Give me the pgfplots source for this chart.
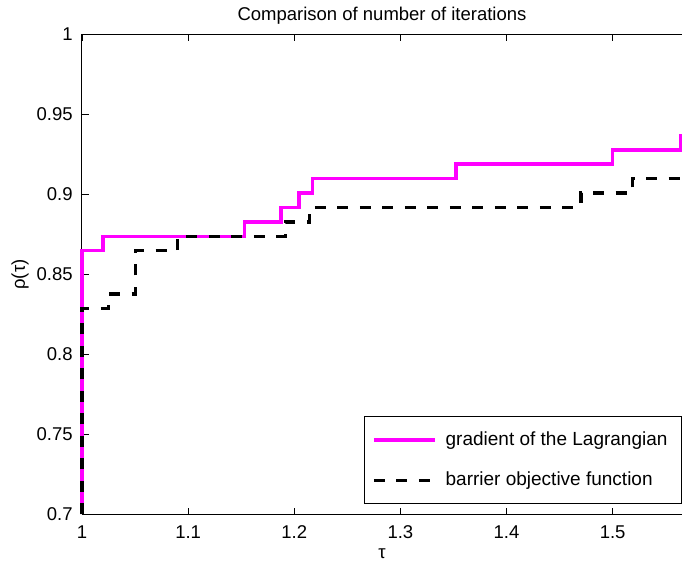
\documentclass[border=0pt]{standalone}
\usepackage{pgfplots}
\pgfplotsset{compat=1.18}
\usepackage{fontspec}
\setmainfont{Liberation Sans}
\definecolor{magentaline}{RGB}{255,0,255}
\begin{document}
\begin{tikzpicture}[font=\fontsize{9.25}{11}\selectfont]
\begin{axis}[
    scale only axis,
    width=300pt, height=240pt,
    xmin=1, xmax=1.5654, ymin=0.7, ymax=1,
    axis x line=box, axis y line*=left,
    xtick={1,1.1,...,1.5}, ytick={0.7,0.75,...,1.0},
    xticklabels={1,1.1,1.2,1.3,1.4,1.5},
    yticklabels={0.7,0.75,0.8,0.85,0.9,0.95,1},
    tick align=inside, major tick length=3.3pt,
    xtick pos=both,
    tick style={black, line width=0.4pt},
    axis line style={line width=0.5pt},
    /pgf/number format/assume math mode=true,
    yticklabel style={inner sep=0pt, xshift=-4.5pt},
    xticklabel style={inner sep=0pt, yshift=-5.5pt},
    title={Comparison of number of iterations},
    every axis title shift=0pt,
    title style={at={(axis description cs:0.5,1)}, anchor=base, yshift=7pt},
    xlabel={τ}, ylabel={ρ(τ)},
    every axis x label/.style={at={(axis description cs:0.5,-0.08125)}, anchor=center},
    every axis y label/.style={at={(axis description cs:-0.1033,0.5)}, rotate=90, anchor=center},
    clip=false,
    legend cell align=left,
    legend image code/.code={\draw[#1] (0pt,0pt) -- (30.5pt,0pt);},
    legend style={at={(axis description cs:1,0)}, anchor=south east, yshift=5pt,
        draw=black, line width=0.5pt, inner xsep=4pt, inner ysep=5.5pt,
        row sep=8pt, font=\fontsize{9.5}{11}\selectfont},
]
\addplot[const plot, magentaline, line width=1.75pt] coordinates {
 (1,0.7) (1,0.8649) (1.0196,0.8739) (1.153,0.8829) (1.1876,0.8919) (1.2045,0.9009)
 (1.2173,0.9099) (1.3526,0.9189) (1.4998,0.9279) (1.5642,0.9369) (1.5654,0.9369)};
\addlegendentry{\hspace*{2.5pt}gradient of the Lagrangian\hspace*{1pt}}
\addplot[const plot, black, line width=1.75pt, dash pattern=on 5.5pt off 5.75pt] coordinates {
 (1,0.7) (1,0.8288) (1.0252,0.8378) (1.0504,0.8649) (1.0902,0.8739) (1.1916,0.8829)
 (1.2145,0.8919) (1.470,0.9009) (1.5187,0.9099) (1.5654,0.9099)};
\addlegendentry{\hspace*{2.5pt}barrier objective function}
\end{axis}
\pgfresetboundingbox
\path ([xshift=-41pt,yshift=-24.5pt]current axis.south west)
  rectangle ([yshift=17.25pt]current axis.north east);
\end{tikzpicture}
\end{document}
